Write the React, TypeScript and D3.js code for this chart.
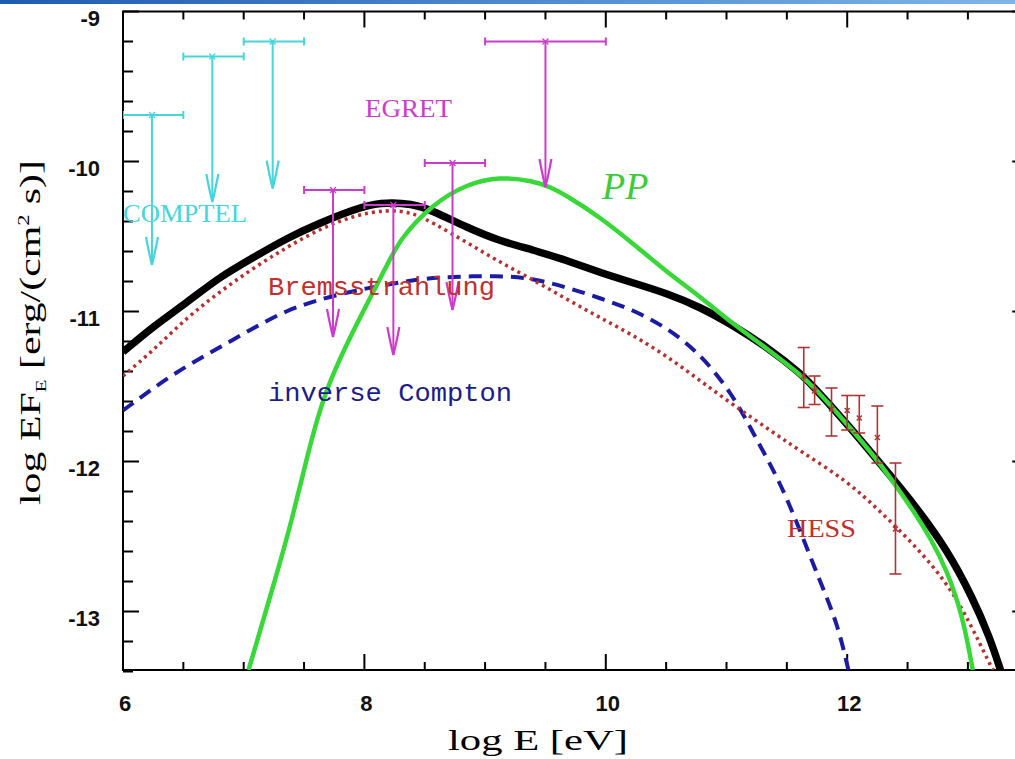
import React from 'react';
import * as d3 from 'd3';

// curves: [log E, log EF_E]
const totalCurve = [
  [6.0, -11.27], [6.25, -11.1], [6.53, -10.94], [6.8, -10.77], [7.08, -10.64], [7.36, -10.51],
  [7.63, -10.41], [7.91, -10.32], [8.13, -10.27], [8.4, -10.28], [8.57, -10.33], [8.85, -10.44],
  [9.12, -10.53], [9.4, -10.59], [9.68, -10.66], [9.95, -10.74], [10.23, -10.81], [10.51, -10.88],
  [10.78, -10.97], [11.05, -11.09], [11.34, -11.24], [11.61, -11.41], [11.72, -11.5], [12.0, -11.75],
  [12.27, -12.01], [12.55, -12.28], [12.83, -12.59], [13.04, -12.91], [13.18, -13.17], [13.27, -13.39],
];
const bremsCurve = [
  [6.0, -11.43], [6.25, -11.26], [6.53, -11.04], [6.8, -10.87], [7.08, -10.71], [7.36, -10.57],
  [7.63, -10.45], [7.91, -10.36], [8.19, -10.32], [8.4, -10.34], [8.57, -10.41], [8.85, -10.54],
  [9.12, -10.67], [9.4, -10.79], [9.68, -10.92], [9.95, -11.04], [10.23, -11.16], [10.51, -11.3],
  [10.78, -11.46], [11.05, -11.62], [11.34, -11.78], [11.61, -11.93], [12.0, -12.13], [12.27, -12.33],
  [12.55, -12.55], [12.83, -12.81], [13.02, -13.08], [13.18, -13.35], [13.21, -13.39],
];
const icCurve = [
  [6.0, -11.66], [6.25, -11.51], [6.53, -11.36], [6.8, -11.24], [7.08, -11.11], [7.36, -10.99],
  [7.63, -10.92], [7.91, -10.86], [8.4, -10.79], [8.63, -10.77], [9.12, -10.76], [9.4, -10.78],
  [9.68, -10.84], [9.95, -10.91], [10.23, -10.99], [10.51, -11.11], [10.78, -11.28], [11.05, -11.55],
  [11.22, -11.81], [11.44, -12.13], [11.61, -12.46], [11.77, -12.79], [11.92, -13.08], [12.01, -13.39],
];
const ppCurve = [
  [7.04, -13.39], [7.26, -12.79], [7.4, -12.39], [7.53, -11.95], [7.67, -11.53], [7.91, -11.12],
  [8.19, -10.69], [8.29, -10.52], [8.57, -10.28], [8.85, -10.15], [9.12, -10.1], [9.4, -10.13],
  [9.54, -10.17], [9.68, -10.23], [9.95, -10.37], [10.23, -10.55], [10.51, -10.74], [10.78, -10.9],
  [11.05, -11.08], [11.34, -11.25], [11.61, -11.42], [11.72, -11.5], [12.0, -11.75], [12.27, -12.01],
  [12.41, -12.17], [12.55, -12.33], [12.69, -12.51], [12.83, -12.73], [12.96, -13.04], [13.04, -13.39],
];

// COMPTEL upper limits
const comptelE = [6.24, 6.74, 7.24];
const comptelLo = [6.0, 6.5, 7.0];
const comptelHi = [6.5, 7.0, 7.5];
const comptelUL = [-9.69, -9.3, -9.2];
const comptelTip = [-10.69, -10.27, -10.18];

// EGRET upper limits
const egretE = [7.74, 8.24, 8.73, 9.5];
const egretLo = [7.5, 8.0, 8.5, 9.0];
const egretHi = [8.0, 8.5, 9.0, 10.0];
const egretUL = [-10.19, -10.29, -10.01, -9.2];
const egretTip = [-11.17, -11.29, -10.99, -10.17];

// HESS points
const hessE = [11.64, 11.73, 11.87, 12.0, 12.1, 12.25, 12.4];
const hessF = [-11.43, -11.53, -11.65, -11.66, -11.71, -11.84, -12.45];
const hessHi = [-11.24, -11.43, -11.51, -11.56, -11.56, -11.63, -12.01];
const hessLo = [-11.64, -11.62, -11.83, -11.79, -11.81, -12.01, -12.75];

const xTickLabels = [6, 8, 10, 12];
const yTickLabels = [-9, -10, -11, -12, -13];

const W = 1015;
const H = 759;

export default function App() {
  const x = d3.scaleLinear().domain([6, 13.5]).range([123, 1028.25]);
  const y = d3.scaleLinear().domain([-9, -13.4]).range([11.5, 671.5]);
  const [x0, x1] = x.range();
  const yTop = y(-9);
  const yBot = 670;

  const line = d3.line<number[]>()
    .x(d => x(d[0]))
    .y(d => y(d[1]))
    .curve(d3.curveBasis);

  const xMinor = d3.range(6, 13.51, 0.5);
  const yMinor = d3.range(-9, -13.41, -0.2);

  const upperLimit = (e: number, lo: number, hi: number, ul: number, tip: number, color: string, key: string) => {
    const cx = x(e);
    const yb = y(ul);
    const yt = y(tip);
    return (
      <g key={key} stroke={color} strokeWidth={2} fill="none">
        <line x1={x(lo)} x2={x(hi)} y1={yb} y2={yb} />
        <line x1={x(lo)} x2={x(lo)} y1={yb - 4} y2={yb + 4} />
        <line x1={x(hi)} x2={x(hi)} y1={yb - 4} y2={yb + 4} />
        <path d={`M${cx - 3},${yb - 3}L${cx + 3},${yb + 3}M${cx + 3},${yb - 3}L${cx - 3},${yb + 3}`} strokeWidth={1.2} />
        <line x1={cx} x2={cx} y1={yb} y2={yt} />
        <path d={`M${cx - 6},${yt - 28}Q${cx - 3},${yt - 12} ${cx},${yt}Q${cx + 3},${yt - 12} ${cx + 6},${yt - 28}`} strokeWidth={2.2} />
      </g>
    );
  };

  return (
    <svg width={W} height={H} style={{ position: 'absolute', left: 0, top: 0, background: '#fff' }}>
      <defs>
        <linearGradient id="topbar" x1="0" x2="1" y1="0" y2="0">
          <stop offset="0" stopColor="#1f5bb0" />
          <stop offset="1" stopColor="#7fb5ea" />
        </linearGradient>
        <clipPath id="plot">
          <rect x={x0} y={yTop} width={x1 - x0} height={yBot - yTop} />
        </clipPath>
      </defs>
      <rect x={0} y={0} width={W} height={4} fill="url(#topbar)" />

      {/* frame */}
      <rect x={x0} y={yTop} width={x1 - x0} height={yBot - yTop} fill="none" stroke="#000" strokeWidth={2} />
      <g stroke="#000" strokeWidth={2}>
        {xMinor.map(v => {
          const major = Math.abs(v % 2) < 1e-6;
          const len = major ? 16 : 8;
          return (
            <g key={'xt' + v}>
              <line x1={x(v)} x2={x(v)} y1={yBot} y2={yBot - len} />
              <line x1={x(v)} x2={x(v)} y1={yTop} y2={yTop + len} />
            </g>
          );
        })}
        {yMinor.map(v => {
          const major = Math.abs(v - Math.round(v)) < 1e-6;
          const len = major ? 16 : 10;
          return (
            <g key={'yt' + v}>
              <line x1={x0} x2={x0 + len} y1={y(v)} y2={y(v)} />
              <line x1={x1} x2={x1 - len} y1={y(v)} y2={y(v)} />
            </g>
          );
        })}
      </g>

      <g fontFamily="'Liberation Sans', Arial, sans-serif" fontSize={22} fontWeight="bold" fill="#111">
        {xTickLabels.map(v => (
          <text key={'xl' + v} x={x(v) + 2} y={711} textAnchor="middle">{v}</text>
        ))}
        {yTickLabels.map(v => (
          <text key={'yl' + v} x={100} y={y(v) + 14} textAnchor="end">{v}</text>
        ))}
      </g>

      {/* axis titles */}
      <text x={448} y={750} fontFamily="'Liberation Serif', 'Times New Roman', serif" fontSize={30}
        textLength={180} lengthAdjust="spacingAndGlyphs">log E [eV]</text>
      <text transform="translate(40,505) rotate(-90)"
        fontFamily="'Liberation Serif', 'Times New Roman', serif" fontSize={30} textLength={345} lengthAdjust="spacingAndGlyphs">
        log EF<tspan fontSize={15} dy={6}>E</tspan><tspan dy={-6}> [erg/(cm</tspan><tspan fontSize={16} dy={-11}>2</tspan><tspan dy={11}> s)]</tspan>
      </text>

      {/* model curves */}
      <g clipPath="url(#plot)" fill="none">
        <path d={line(icCurve) || ''} stroke="#1c1ca3" strokeWidth={4} strokeDasharray="13 8" />
        <path d={line(bremsCurve) || ''} stroke="#b5302e" strokeWidth={3.5} strokeDasharray="3 4" />
        <path d={line(totalCurve) || ''} stroke="#000" strokeWidth={7.5} />
        <path d={line(ppCurve) || ''} stroke="#38d838" strokeWidth={4.5} />
      </g>

      {/* data */}
      <g clipPath="url(#plot)">
        {comptelE.map((e, i) => upperLimit(e, comptelLo[i], comptelHi[i], comptelUL[i], comptelTip[i], '#45d6dc', 'c' + i))}
        {egretE.map((e, i) => upperLimit(e, egretLo[i], egretHi[i], egretUL[i], egretTip[i], '#cc3ccc', 'e' + i))}
        {hessE.map((e, i) => {
          const cx = x(e);
          return (
            <g key={'h' + i} stroke="#b03434" strokeWidth={1.6} fill="none">
              <line x1={cx} x2={cx} y1={y(hessHi[i])} y2={y(hessLo[i])} />
              <line x1={cx - 6} x2={cx + 6} y1={y(hessHi[i])} y2={y(hessHi[i])} />
              <line x1={cx - 6} x2={cx + 6} y1={y(hessLo[i])} y2={y(hessLo[i])} />
              <path d={`M${cx - 2.5},${y(hessF[i]) - 2.5}L${cx + 2.5},${y(hessF[i]) + 2.5}M${cx + 2.5},${y(hessF[i]) - 2.5}L${cx - 2.5},${y(hessF[i]) + 2.5}`} />
            </g>
          );
        })}
      </g>

      {/* labels */}
      <g fontFamily="'Liberation Serif', 'Times New Roman', serif">
        <text x={123} y={222} fontSize={26} fill="#45d6dc" textLength={124} lengthAdjust="spacingAndGlyphs">COMPTEL</text>
        <text x={365} y={117} fontSize={26} fill="#cc3ccc" textLength={87} lengthAdjust="spacingAndGlyphs">EGRET</text>
        <text x={787} y={537} fontSize={26} fill="#c0302e" textLength={69} lengthAdjust="spacingAndGlyphs">HESS</text>
        <text x={602} y={199} fontSize={38} fontStyle="italic" fill="#3ccc3c">PP</text>
      </g>
      <g fontFamily="'Liberation Mono', 'Courier New', monospace" fontSize={26}>
        <text x={268} y={295} fill="#c0302e" textLength={227} lengthAdjust="spacingAndGlyphs">Bremsstrahlung</text>
        <text x={268} y={401} fill="#1c1c8c" textLength={244} lengthAdjust="spacingAndGlyphs">inverse Compton</text>
      </g>
    </svg>
  );
}
